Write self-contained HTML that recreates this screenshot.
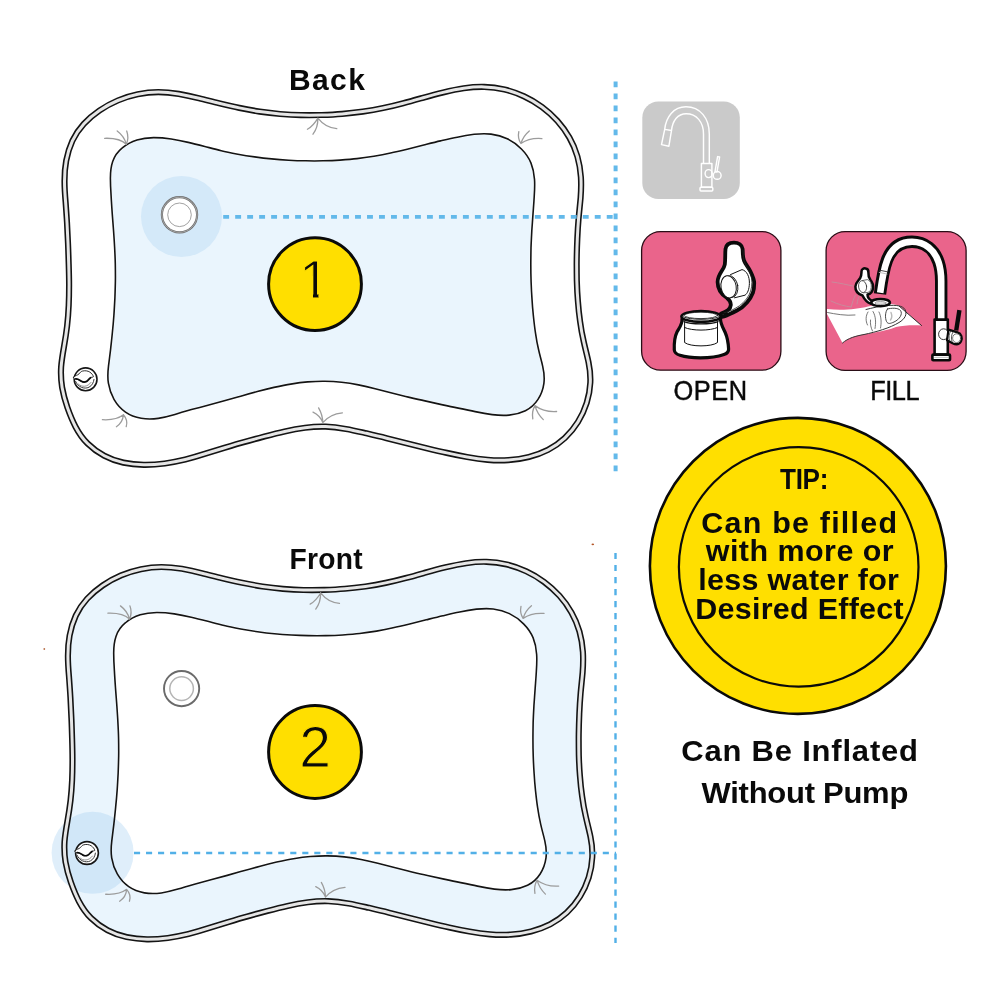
<!DOCTYPE html>
<html lang="en">
<head>
<meta charset="utf-8">
<title>Water mat filling instructions</title>
<style>
html,body{margin:0;padding:0;background:#fff;width:1000px;height:1000px;overflow:hidden}
svg{display:block}
text{font-family:"Liberation Sans",sans-serif;fill:#0a0a0a}
svg{will-change:transform}
.b{font-weight:bold}
</style>
</head>
<body>
<svg width="1000" height="1000" viewBox="0 0 1000 1000">
<defs>
<clipPath id="oneclip"><rect x="313" y="250" width="5.4" height="60"/><rect x="298" y="250" width="16" height="26"/></clipPath>
<path id="matO" d="M68.7 264.0C68.5 257.1 68.3 250.2 68.0 243.3C67.7 236.5 67.4 229.6 67.0 222.7C66.6 215.8 66.1 208.9 65.6 202.0C65.0 195.1 64.5 188.2 64.5 181.3C64.5 174.4 64.9 167.5 66.2 160.7C67.5 153.8 69.5 147.1 72.4 140.8C75.3 134.6 79.2 128.9 83.8 123.9C88.5 118.8 93.8 114.4 99.5 110.5C105.2 106.6 111.4 103.2 117.8 100.5C124.2 97.8 130.9 95.7 137.7 94.3C144.5 92.9 151.5 92.1 158.3 92.1C165.2 92.1 172.0 92.8 178.8 93.9C185.5 95.1 192.3 96.6 199.0 98.3C205.7 99.9 212.4 101.7 219.1 103.3C225.8 104.9 232.5 106.5 239.3 107.9C246.0 109.3 252.8 110.5 259.6 111.6C266.4 112.6 273.2 113.4 280.1 114.0C287.0 114.5 293.9 114.9 300.8 115.1C307.7 115.2 314.6 115.2 321.6 115.0C328.5 114.8 335.4 114.5 342.2 113.9C349.1 113.3 356.0 112.5 362.8 111.6C369.6 110.6 376.4 109.4 383.1 108.0C389.9 106.6 396.6 105.0 403.2 103.2C409.9 101.5 416.5 99.6 423.2 97.7C429.8 95.9 436.5 94.1 443.2 92.4C450.0 90.8 456.8 89.3 463.7 88.3C470.5 87.3 477.4 86.7 484.2 86.9C491.1 87.0 497.9 87.9 504.6 89.5C511.3 91.1 517.9 93.5 524.1 96.4C530.4 99.3 536.4 102.9 542.0 107.0C547.6 111.1 552.7 115.8 557.4 120.9C562.0 126.0 566.0 131.6 569.4 137.6C572.8 143.5 575.5 149.9 577.4 156.5C579.3 163.2 580.4 170.1 580.9 177.1C581.3 184.0 581.1 191.0 580.6 197.8C580.0 204.7 579.2 211.5 578.6 218.3C578.0 225.2 577.6 232.1 577.3 239.0C577.0 245.9 576.8 252.8 576.7 259.7C576.6 266.6 576.7 273.5 576.8 280.4C577.0 287.3 577.3 294.2 577.9 301.1C578.4 308.0 579.1 314.8 580.1 321.6C581.0 328.5 582.2 335.2 583.8 342.0C585.3 348.8 587.1 355.5 588.5 362.2C589.9 368.9 590.6 375.7 590.3 382.6C590.0 389.4 588.8 396.2 586.7 402.9C584.6 409.5 581.7 416.0 578.0 421.9C574.3 427.9 569.8 433.4 564.8 438.1C559.8 442.8 554.1 446.7 548.1 449.8C542.1 452.9 535.6 455.2 528.9 456.9C522.2 458.6 515.3 459.6 508.4 460.1C501.5 460.5 494.5 460.4 487.6 459.8C480.8 459.2 473.9 458.2 467.1 457.0C460.3 455.8 453.5 454.4 446.8 452.9C440.0 451.5 433.3 449.9 426.7 448.3C420.0 446.6 413.3 445.0 406.6 443.3C400.0 441.6 393.3 439.9 386.6 438.2C379.9 436.5 373.2 434.9 366.4 433.3C359.7 431.8 352.9 430.2 346.0 429.0C339.2 427.8 332.4 426.9 325.6 426.6C318.7 426.4 311.9 426.8 305.1 427.7C298.3 428.6 291.5 429.9 284.7 431.5C278.0 433.0 271.2 434.7 264.5 436.4C257.8 438.2 251.1 440.0 244.4 441.9C237.8 443.7 231.2 445.7 224.6 447.7C218.0 449.7 211.6 451.8 205.0 453.8C198.5 455.9 192.0 457.8 185.3 459.5C178.5 461.1 171.6 462.5 164.7 463.5C157.7 464.4 150.7 464.9 143.8 464.8C136.9 464.7 130.0 464.0 123.4 462.6C116.8 461.1 110.3 458.9 104.3 455.7C98.2 452.5 92.5 448.4 87.6 443.5C82.6 438.6 78.7 432.8 75.5 426.7C72.3 420.6 69.7 414.0 67.4 407.5C65.1 400.9 63.3 394.2 62.1 387.4C61.0 380.7 60.7 373.9 61.1 367.1C61.6 360.3 62.8 353.4 64.0 346.6C65.2 339.8 66.3 332.9 67.1 326.0C67.9 319.1 68.4 312.3 68.7 305.4C69.0 298.5 69.1 291.6 69.1 284.7C69.1 277.8 68.9 270.9 68.7 264.0Z"/>
<path id="matI" d="M115.3 263.9C115.2 258.3 114.9 252.6 114.6 247.0C114.3 241.3 113.9 235.7 113.5 230.0C113.1 224.4 112.6 218.7 112.2 213.0C111.8 207.3 111.4 201.6 111.1 195.8C110.7 190.0 110.4 184.1 110.4 178.3C110.4 172.5 110.9 166.8 112.7 161.6C114.4 156.4 117.8 151.6 122.3 147.9C126.7 144.1 131.7 141.6 137.0 139.9C142.3 138.3 148.0 137.7 153.7 137.6C159.5 137.6 165.4 138.1 171.2 139.0C177.0 139.9 182.7 141.1 188.2 142.4C193.8 143.7 199.3 145.1 204.8 146.5C210.2 147.9 215.7 149.4 221.2 150.7C226.6 152.0 232.2 153.1 237.8 154.2C243.3 155.2 248.9 156.1 254.6 156.9C260.2 157.7 265.9 158.4 271.6 158.9C277.3 159.5 283.0 159.9 288.7 160.2C294.4 160.5 300.1 160.7 305.8 160.8C311.6 161.0 317.3 161.0 323.0 160.8C328.7 160.7 334.4 160.5 340.0 160.1C345.7 159.7 351.4 159.3 357.0 158.6C362.7 158.0 368.3 157.2 373.9 156.3C379.5 155.3 385.1 154.2 390.6 153.0C396.2 151.8 401.7 150.5 407.2 149.2C412.8 147.8 418.3 146.4 423.8 145.0C429.4 143.6 434.9 142.2 440.5 140.9C446.1 139.6 451.6 138.3 457.3 137.2C462.9 136.0 468.6 135.0 474.2 134.3C479.9 133.7 485.5 133.5 491.0 134.1C496.6 134.8 502.0 136.2 507.2 138.8C512.4 141.3 517.3 144.8 521.4 149.0C525.5 153.1 528.9 157.9 531.0 163.1C533.1 168.2 534.1 173.7 534.5 179.4C534.9 185.0 534.6 190.9 534.2 196.7C533.9 202.4 533.4 208.2 533.0 213.9C532.6 219.5 532.2 225.2 531.8 230.8C531.5 236.5 531.2 242.1 531.0 247.8C530.9 253.4 530.8 259.1 530.8 264.8C530.8 270.6 530.9 276.3 531.1 282.0C531.3 287.7 531.6 293.4 532.0 299.1C532.3 304.8 532.8 310.5 533.4 316.2C534.0 321.8 534.6 327.5 535.5 333.1C536.3 338.7 537.3 344.3 538.6 349.8C539.8 355.4 541.5 360.8 542.7 366.3C544.0 371.9 544.6 377.6 543.9 383.3C543.1 389.0 541.1 394.6 538.0 399.4C534.9 404.2 530.6 408.2 525.4 410.7C520.3 413.2 514.7 414.6 509.1 415.1C503.5 415.6 497.9 415.3 492.2 414.6C486.5 413.9 480.8 412.8 475.2 411.6C469.5 410.5 463.9 409.3 458.3 408.1C452.7 407.0 447.1 405.8 441.6 404.6C436.0 403.4 430.5 402.1 425.0 400.9C419.4 399.7 413.9 398.4 408.4 397.1C402.9 395.7 397.4 394.4 391.8 393.0C386.3 391.6 380.8 390.1 375.2 388.7C369.7 387.3 364.1 386.0 358.5 384.9C352.9 383.8 347.2 382.9 341.6 382.3C335.9 381.7 330.2 381.4 324.6 381.3C318.9 381.2 313.2 381.5 307.6 381.9C301.9 382.4 296.3 383.2 290.7 384.1C285.1 385.0 279.5 386.2 273.9 387.4C268.3 388.7 262.8 390.1 257.3 391.6C251.7 393.1 246.2 394.6 240.7 396.2C235.2 397.7 229.7 399.3 224.3 400.8C218.8 402.3 213.3 403.8 207.9 405.2C202.4 406.7 196.9 408.1 191.4 409.6C185.9 411.2 180.4 412.8 174.9 414.5C169.4 416.1 163.8 417.5 158.2 418.4C152.6 419.2 146.8 419.3 141.2 418.3C135.6 417.3 130.1 415.3 125.5 412.1C120.8 408.9 116.9 404.4 114.0 399.4C111.2 394.4 109.3 388.8 108.4 383.2C107.5 377.5 107.8 371.8 108.5 366.2C109.2 360.6 109.9 354.9 110.6 349.3C111.2 343.6 111.9 338.0 112.4 332.3C113.0 326.6 113.5 320.9 113.9 315.2C114.3 309.5 114.6 303.8 114.9 298.1C115.1 292.4 115.3 286.7 115.4 281.0C115.5 275.3 115.4 269.6 115.3 263.9Z"/>
<g id="folds" fill="none" stroke="#9c9c9c" stroke-width="1.3" stroke-linecap="round">
<path d="M126.3 144.3C122 140 113 138 104.6 138.3M126.3 144.3C125 139 121.5 134.2 117.2 131M126.3 144.3C128.2 140 128.2 135 126.7 131"/>
<path d="M317.9 118.1C315 123 311.5 127 307.4 129.3M317.9 118.1C318 124 316.2 130 313 134.2M317.9 118.1C322.5 124 329 128 336.8 128.6"/>
<path d="M520.9 143.5C518.6 140 518 135.5 518.8 131.6M520.9 143.5C522.4 138.6 525.5 134 529.3 130.9M520.9 143.5C526 140 534 138 541.9 138.6"/>
<path d="M123.4 414.8C118.5 418.6 110.5 420.2 102.4 419.7M123.4 414.8C123 420 120.5 424 116.4 426.7M123.4 414.8C126.6 418.4 127.4 423 126.2 426.7"/>
<path d="M322.8 422.6C321 418 317.5 414.2 313 412.1M322.8 422.6C322.6 417 321 412 318.6 407.9M322.8 422.6C327 417.5 334 413.6 342.4 412.8"/>
<path d="M534.9 405.6C541 410 549 412 556.6 411.5M534.9 405.6C536.5 411 539.5 416 543.3 419.6M534.9 405.6C532.5 410 532 414.5 532.8 418.9"/>
</g>
<g id="valve">
<circle cx="179.5" cy="214.8" r="17.6" fill="#fff" stroke="#6e6e6e" stroke-width="2.2"/>
<circle cx="179.5" cy="214.8" r="17.6" fill="none" stroke="#c9c9c9" stroke-width="0.6"/>
<circle cx="179.5" cy="214.8" r="11.8" fill="#fff" stroke="#8a8a8a" stroke-width="0.8"/>
</g>
<g id="valve2">
<circle cx="179.5" cy="214.8" r="17.6" fill="#fff" stroke="#6a6a6a" stroke-width="1.9"/>
<circle cx="179.5" cy="214.8" r="11.8" fill="#fff" stroke="#b4b4b4" stroke-width="1.5"/>
</g>
<g id="stopper" stroke-linecap="round" stroke-linejoin="round">
<circle cx="85.6" cy="379.3" r="11.4" fill="#fff" stroke="#161616" stroke-width="1.6"/>
<path d="M75.6 381.4C78 387 84 389.6 89 387.2C92 385.6 93.6 382.6 94 379.4" fill="none" stroke="#3a3a3a" stroke-width="1"/>
<path d="M78.6 384.2C81.6 387.4 87.6 387.2 91 382.4" fill="none" stroke="#666" stroke-width="0.7"/>
<path d="M73.6 377.2C75.2 375.2 77.6 375.4 79 373.9C80.4 372.4 80.6 371.6 82.4 371.1C85 370.4 87.8 370.8 89.8 372.1C91.6 373.3 93 375 93.4 376.7C92.4 377.6 91.6 377 90.6 377.6C88.8 378.8 88 380.8 86.2 381.6C84.4 382.4 82.2 382 80.4 380.9C78.8 379.9 77.6 379 75.6 379C74.4 379 73.4 378.6 73.6 377.2Z" fill="#fff" stroke="#161616" stroke-width="0.9"/>
<path d="M75.8 378.9C78.2 378.8 79.4 380 81 381C82.8 382.1 84.6 382.4 86.2 381.6C88 380.8 88.8 378.8 90.6 377.7" fill="none" stroke="#0a0a0a" stroke-width="1.7"/>
</g>
</defs>
<rect width="1000" height="1000" fill="#fff"/>

<!-- BACK MAT -->
<g id="back">
<use href="#matO" fill="#fff"/>
<use href="#matI" fill="#eaf5fd" stroke="#fff" stroke-width="2.2"/>
<circle cx="181.5" cy="216.5" r="40.5" fill="#d4e9f9"/>
<use href="#matO" fill="none" stroke="#141414" stroke-width="6.2"/>
<use href="#matO" fill="none" stroke="#e6e6e6" stroke-width="3"/>
<use href="#matI" fill="none" stroke="#141414" stroke-width="1.6"/>
<use href="#folds"/>
<use href="#valve"/>
<use href="#stopper"/>
</g>

<!-- FRONT MAT -->
<g id="front-fill" transform="matrix(0.9973 0 0 0.9989 3.58 475)">
<use href="#matO" fill="#eaf5fd"/>
<use href="#matI" fill="#fff" stroke="#fff" stroke-width="2"/>
</g>
<circle cx="92.6" cy="852.8" r="41" fill="#9ccbf0" fill-opacity="0.32"/>
<g id="front-lines" transform="matrix(0.9973 0 0 0.9989 3.58 475)">
<use href="#matO" fill="none" stroke="#141414" stroke-width="6.2"/>
<use href="#matO" fill="none" stroke="#e6e6e6" stroke-width="3"/>
<use href="#matI" fill="none" stroke="#141414" stroke-width="1.6"/>
<use href="#folds"/>
</g>
<use href="#valve2" transform="translate(2.1 473.8)"/>
<use href="#stopper" transform="translate(1.4 473.7)"/>

<!-- dotted guide lines -->
<line x1="223.2" y1="216.8" x2="617.6" y2="216.8" stroke="#63b9ea" stroke-width="3.8" stroke-dasharray="5.9 6.086"/>
<line x1="615.6" y1="81.4" x2="615.6" y2="471.5" stroke="#63b9ea" stroke-width="4" stroke-dasharray="5.8 6.2"/>
<line x1="134" y1="853" x2="616" y2="853" stroke="#52b0e7" stroke-width="2.4" stroke-dasharray="6.1 5.92"/>
<line x1="615.5" y1="553" x2="615.5" y2="943" stroke="#52b0e7" stroke-width="2.4" stroke-dasharray="6.1 5.92"/>

<!-- stray specks present in the artwork -->
<circle cx="44.3" cy="649" r="0.9" fill="#b8704a"/>
<ellipse cx="592.8" cy="544.4" rx="1.3" ry="0.8" fill="#b4582a"/>

<!-- number badges -->
<circle cx="315" cy="284.1" r="46.4" fill="#ffdf00" stroke="#0a0a0a" stroke-width="3"/>
<text x="299.5" y="298.4" font-size="53" stroke="#ffdf00" stroke-width="1" clip-path="url(#oneclip)">1</text>
<circle cx="315" cy="752" r="46.4" fill="#ffdf00" stroke="#0a0a0a" stroke-width="3"/>
<text x="315.2" y="767" font-size="57" text-anchor="middle" stroke="#ffdf00" stroke-width="1">2</text>



<!-- grey faucet tile -->
<rect x="642.3" y="101.6" width="97.5" height="97.3" rx="16" fill="#cacaca"/>
<g fill="none" stroke="#fff" stroke-width="1.45" stroke-linejoin="round">
<path d="M664.7 129.4C666 117 673.5 106.8 686 106.8C700 106.8 709.3 118 709.3 134V163.5"/>
<path d="M671.5 130.5C672.5 121 677.5 113.7 686.2 113.7C696.5 113.7 703.5 122 703.5 134V163.5"/>
<path d="M664.7 129.4L661.5 144.6L668.9 146.2L671.5 130.5Z"/>
<rect x="701.4" y="163.5" width="10.5" height="23.7"/>
<rect x="700" y="187.2" width="12.8" height="3.9" rx="1"/>
<path d="M717.6 156.6l2 .4l-2.6 15l-2-.4z"/>
<circle cx="717.2" cy="175.4" r="3.9"/>
<ellipse cx="708.6" cy="173.6" rx="3.5" ry="4"/>
</g>

<!-- pink tiles -->
<rect x="641.6" y="231.6" width="139.3" height="138.6" rx="19" fill="#ea648b" stroke="#2a0d16" stroke-width="1.3"/>
<rect x="826.1" y="231.6" width="140" height="138.8" rx="19" fill="#ea648b" stroke="#2a0d16" stroke-width="1.3"/>
<!-- OPEN icon -->
<g stroke-linejoin="round" stroke-linecap="round">
<path d="M721 313.5C726 312 730.5 309 730.8 305C731 301.5 729.5 300 727 298C721.5 294.5 717.6 289 717.6 282C717.6 274 724 270 724.8 264.5C725.5 259 725 254 725.5 249C726 244.5 729.5 242.6 734 242.6C738.5 242.6 742.2 244.8 742.6 249C743 253.5 742.5 257 744 260.5C745.5 264.5 748.5 267.5 750.5 271.5C752.5 275.5 754.2 279 754.2 283C754.2 287 754 289.5 753 292.5C751.5 296.5 749.5 299.5 747 302.5C744 306 741 308.5 737 310.5C733 312.5 729 314.5 724 316.5L720 317.5Z" fill="#fff" stroke="#0a0a0a" stroke-width="3.8"/>
<path d="M743 250C743.5 256 743 260 745.5 264.5C748 269 750.5 273 751.5 278C752.5 284 751.5 290 749 295C746 300.5 741 305.5 735 308.5C731.5 310.5 727.5 311.8 724 312.8" fill="none" stroke="#222" stroke-width="0.8"/>
<path d="M730.5 274.6L742 269.6C746.8 270.8 749.6 276.5 749.4 283.5C749.2 289.5 747.5 293.5 745 295.2L734.5 297.8" fill="#fff" stroke="#111" stroke-width="1"/>
<ellipse cx="730.4" cy="286.6" rx="7.4" ry="11" transform="rotate(-10 730.4 286.6)" fill="#fff" stroke="#111" stroke-width="0.9"/>
<ellipse cx="728.6" cy="286.8" rx="7.6" ry="11.2" transform="rotate(-10 728.6 286.8)" fill="#fff" stroke="#111" stroke-width="1"/>
<path d="M682 319C682.5 324 679.5 327.5 677 332C674.8 336.5 674 343 674.3 350C674.5 353 676.5 354.3 680 355.3C686 357.2 693 357.8 700.5 357.8C709 357.8 717 357 724 354.5C727 353.5 728.8 352 728.6 349C728.3 343 727.2 337 725.2 332.5C723.2 328 720.5 324 720.5 319Z" fill="#fff" stroke="#0a0a0a" stroke-width="3.2"/>
<path d="M684.6 322V342.5C690 347 712 347 717.5 342.5V322" fill="none" stroke="#111" stroke-width="1"/>
<path d="M684.6 327.5C692 331 710 331 717.5 327.5" fill="none" stroke="#111" stroke-width="1"/>
<ellipse cx="701" cy="316.5" rx="19.6" ry="5.4" fill="#fff" stroke="#0a0a0a" stroke-width="2.6"/>
<path d="M683.2 316.8C690 320.2 712 320.2 718.8 316.8" fill="none" stroke="#111" stroke-width="0.9"/>
<path d="M684 321.6C691 324.6 711 324.6 718 321.6" fill="none" stroke="#111" stroke-width="1.3"/>
<ellipse cx="701" cy="315.4" rx="16.5" ry="3.2" fill="#fff" stroke="#111" stroke-width="0.8"/>
</g>

<!-- FILL icon -->
<g stroke-linejoin="round" stroke-linecap="round">
<!-- fingers behind -->
<path d="M832 282C840 283 848 285 853 286M831 301C838 304.5 846 306.5 851 307M851 307C852.5 303 853.5 298 855.5 295M857 304C857.5 300 858.5 297 860 295" fill="none" stroke="#c98a9b" stroke-width="1"/>
<!-- mat corner + hand -->
<path d="M827 309C842 311 858 309 868 306.5C880 303.5 893 303 899 305.5L921.5 325.5C912 325 903 325.5 896 327C884 332 868 333 856 336C850 337.5 846 340 842.5 343L827 314Z" fill="#fff"/>
<path d="M899 306L921.5 325.5" fill="none" stroke="#111" stroke-width="0.9"/>
<path d="M827.5 312.5C835 314 846 316 855 315" fill="none" stroke="#555" stroke-width="0.8"/>
<path d="M842.5 343C848 338 856 336 864 334.5C876 332 890 328 899 322.5C905 319 907.5 314 905 309.5C902.5 305.5 896 305 888 305.5C880 306 872 308 866 309.5" fill="none" stroke="#333" stroke-width="1"/>
<path d="M887.5 309C891 308 898 307.5 900.5 310.5C903 314 899.5 319.5 894 322C890.5 323.5 888 324.5 886.5 321.5C885 318 885 312 887.5 309Z" fill="#fff" stroke="#333" stroke-width="0.9"/>
<path d="M891 312.5C892 315 892 318 890.5 320" fill="none" stroke="#bbb" stroke-width="1.4"/>
<path d="M868 312C865.5 316 865.5 321 867.5 325M873 311.5C876 316.5 876 323 875 328.5M879 312C881.5 317 881.5 323 880.5 328M870.5 320C870 324 871 328 872.5 331" fill="none" stroke="#555" stroke-width="0.8"/>
<!-- valve ring in hand -->
<ellipse cx="880.5" cy="302.6" rx="9.4" ry="3.6" fill="#fff" stroke="#0a0a0a" stroke-width="2.6"/>
<ellipse cx="880.5" cy="303" rx="5.6" ry="1.6" fill="#ddd" stroke="#777" stroke-width="0.6"/>
<!-- faucet tube -->
<path d="M880 294C881.6 282 883.5 269 887 260C891.5 248.5 900 241.8 912 241.8C925 241.8 934.5 250 938.5 262C940.5 268 941.2 274 941.2 281V320" fill="none" stroke="#0a0a0a" stroke-width="12.4" stroke-linecap="butt"/>
<path d="M880.2 292.7C881.8 281 883.7 269 887.2 260C891.7 248.5 900 241.8 912 241.8C925 241.8 934.5 250 938.5 262C940.5 268 941.2 274 941.2 281V321" fill="none" stroke="#fff" stroke-width="6.6" stroke-linecap="butt"/>
<path d="M879.6 270.2L887.4 271.8" fill="none" stroke="#333" stroke-width="0.9"/>
<path d="M879.2 272.4L887 274" fill="none" stroke="#bbb" stroke-width="0.9"/>
<!-- opened cap -->
<path d="M861.5 271.5C861.5 269 863.5 268.2 865.5 268.4C867.5 268.6 868.6 270 868.4 272.5C868.2 275 868.6 277.5 870.5 280C872.5 282.5 873.4 285 873 288C872.6 291.5 870.5 294 867.5 294.6C867.5 297 869 299.5 872 300.8L870.5 303.6C866 302 864 298.5 862.5 295.5C858 294 855.2 290.5 855.4 286.5C855.6 282.5 858.5 280.5 860.2 278C861.6 276 861.4 273.5 861.5 271.5Z" fill="#fff" stroke="#0a0a0a" stroke-width="2.5"/>
<path d="M862.5 280.5L867.5 279.6C870.5 280.5 871.6 284 871.2 287.5C870.8 290.5 869.5 292 868 292.4L863.5 292.8" fill="#fff" stroke="#333" stroke-width="0.7"/>
<ellipse cx="862.6" cy="286.6" rx="4" ry="6" transform="rotate(-8 862.6 286.6)" fill="#fff" stroke="#333" stroke-width="0.8"/>
<!-- faucet body -->
<rect x="934.6" y="319.6" width="13.2" height="35" fill="#fff" stroke="#0a0a0a" stroke-width="2.6"/>
<rect x="932.4" y="354.6" width="17.6" height="5.6" rx="0.8" fill="#fff" stroke="#0a0a0a" stroke-width="2.6"/>
<path d="M934.6 357.4H948" fill="none" stroke="#999" stroke-width="0.6"/>
<!-- handle -->
<path d="M959.4 310.2L956.2 330.5" fill="none" stroke="#0a0a0a" stroke-width="4.4" stroke-linecap="butt"/>
<ellipse cx="943.6" cy="334.2" rx="5" ry="5.4" fill="#fff" stroke="#222" stroke-width="0.9"/>
<path d="M948.5 329.6L957.5 332.4C961.5 333.6 962.8 338 961 341.5C959.2 344.6 955.5 344.6 952.5 343.2L947 340.2Z" fill="#fff" stroke="#0a0a0a" stroke-width="2.2"/>
<ellipse cx="956.6" cy="338.2" rx="4" ry="4.4" fill="#fff" stroke="#444" stroke-width="0.7"/>
<path d="M950.6 331.2C948.8 334 948.6 337.5 949.6 340.6M953 332C951.2 335 951 338.5 952 341.6" fill="none" stroke="#333" stroke-width="0.8"/>
</g>


<!-- tip badge -->
<circle cx="797.9" cy="565.9" r="148" fill="#ffdf00" stroke="#0a0a0a" stroke-width="2.6"/>
<circle cx="798.7" cy="566.9" r="119.8" fill="none" stroke="#0a0a0a" stroke-width="2.2"/>

<!-- labels -->
<text class="b" transform="translate(289.00 90.20)" font-size="30" textLength="75.83" lengthAdjust="spacing">Back</text>
<text class="b" transform="translate(289.44 569.00) scale(0.94 1)" font-size="30" textLength="77.95" lengthAdjust="spacing">Front</text>
<text stroke="#0a0a0a" stroke-width="0.45" transform="translate(673.41 399.90) scale(0.93 1)" font-size="27.3" textLength="79.13" lengthAdjust="spacing">OPEN</text>
<text stroke="#0a0a0a" stroke-width="0.45" transform="translate(870.20 399.90) scale(0.93 1)" font-size="27.3" textLength="53.09" lengthAdjust="spacing">FILL</text>
<text class="b" transform="translate(780.02 489.30) scale(0.9 1)" font-size="29" textLength="53.77" lengthAdjust="spacing">TIP:</text>
<text class="b" transform="translate(701.33 533.00) scale(1.05 1)" font-size="29" textLength="186.34" lengthAdjust="spacing">Can be filled</text>
<text class="b" transform="translate(705.79 561.10) scale(1.05 1)" font-size="29" textLength="178.93" lengthAdjust="spacing">with more or</text>
<text class="b" transform="translate(698.16 589.90) scale(1.05 1)" font-size="29" textLength="191.23" lengthAdjust="spacing">less water for</text>
<text class="b" transform="translate(695.31 619.40) scale(1.05 1)" font-size="29" textLength="198.38" lengthAdjust="spacing">Desired Effect</text>
<text class="b" transform="translate(681.22 760.90) scale(1.05 1)" font-size="29.5" textLength="225.49" lengthAdjust="spacing">Can Be Inflated</text>
<text class="b" transform="translate(701.57 803.00) scale(1.05 1)" font-size="29.5" textLength="196.90" lengthAdjust="spacing">Without Pump</text>

</svg>
</body>
</html>
